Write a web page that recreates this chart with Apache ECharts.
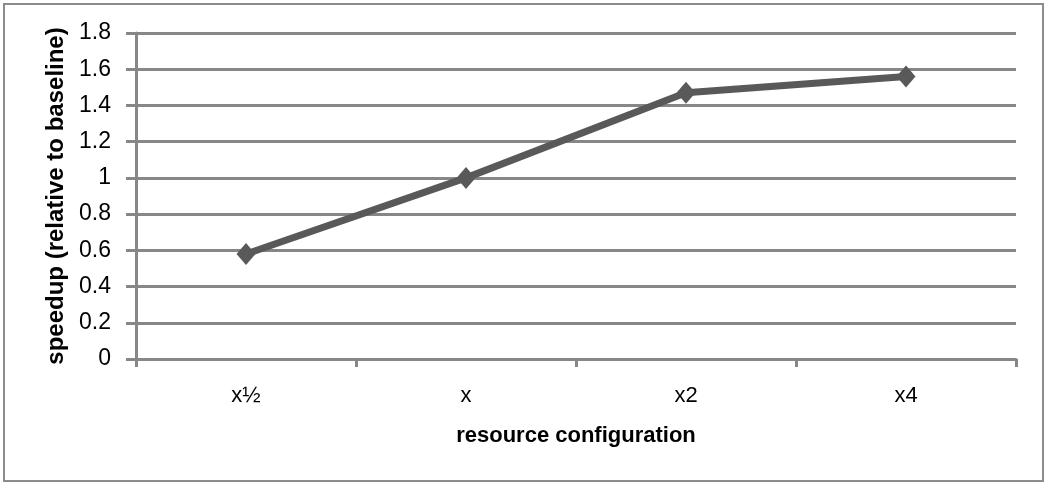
<!DOCTYPE html>
<html>
<head>
<meta charset="utf-8">
<script src="https://cdn.jsdelivr.net/npm/echarts@6/dist/echarts.min.js"></script>
<style>
html,body{margin:0;padding:0;background:#fff;}
#chart{width:1045px;height:483px;}
</style>
</head>
<body>
<div id="chart"></div>
<script>
const categories = ['x\u00bd', 'x', 'x2', 'x4'];
const speedup = [0.58, 1.0, 1.47, 1.56];
const yMin = 0, yMax = 1.8, yStep = 0.2;
const xTitle = 'resource configuration';
const yTitle = 'speedup (relative to baseline)';

const FONT = '"Liberation Sans", "DejaVu Sans", sans-serif';
const GRID = '#878787';

const chart = echarts.init(document.getElementById('chart'), null, {renderer: 'canvas'});
chart.setOption({
  animation: false,
  backgroundColor: '#fff',
  textStyle: {fontFamily: FONT},
  graphic: [{
    type: 'rect',
    shape: {x: 4, y: 4, width: 1039, height: 477},
    style: {fill: 'none', stroke: '#8c8c8c', lineWidth: 2},
    silent: true
  }],
  grid: {left: 136, right: 29, top: 33, bottom: 124, containLabel: false},
  xAxis: {
    type: 'category',
    data: categories,
    boundaryGap: true,
    name: xTitle,
    nameLocation: 'middle',
    nameGap: 66,
    nameTextStyle: {fontSize: 22, fontWeight: 'bold', color: '#000', fontFamily: FONT},
    axisLine: {lineStyle: {color: GRID, width: 3}},
    axisTick: {show: true, length: 8, lineStyle: {color: GRID, width: 3}},
    axisLabel: {fontSize: 22, color: '#000', margin: 26, fontFamily: FONT},
    splitLine: {show: false}
  },
  yAxis: {
    type: 'value',
    min: yMin,
    max: yMax,
    interval: yStep,
    name: yTitle,
    nameLocation: 'middle',
    nameGap: 68,
    nameRotate: 90,
    nameTextStyle: {fontSize: 24, fontWeight: 'bold', color: '#000', fontFamily: FONT},
    axisLine: {show: true, lineStyle: {color: GRID, width: 3}},
    axisTick: {show: true, length: 10, lineStyle: {color: GRID, width: 3}},
    axisLabel: {fontSize: 23, color: '#000', margin: 25, fontFamily: FONT,
      formatter: v => String(Math.round(v * 10) / 10)},
    splitLine: {show: true, lineStyle: {color: GRID, width: 3}}
  },
  series: [{
    type: 'line',
    data: speedup,
    symbol: 'diamond',
    symbolSize: [19, 22],
    lineStyle: {color: '#595959', width: 7},
    itemStyle: {color: '#595959'},
    z: 5
  }]
});
</script>
</body>
</html>
